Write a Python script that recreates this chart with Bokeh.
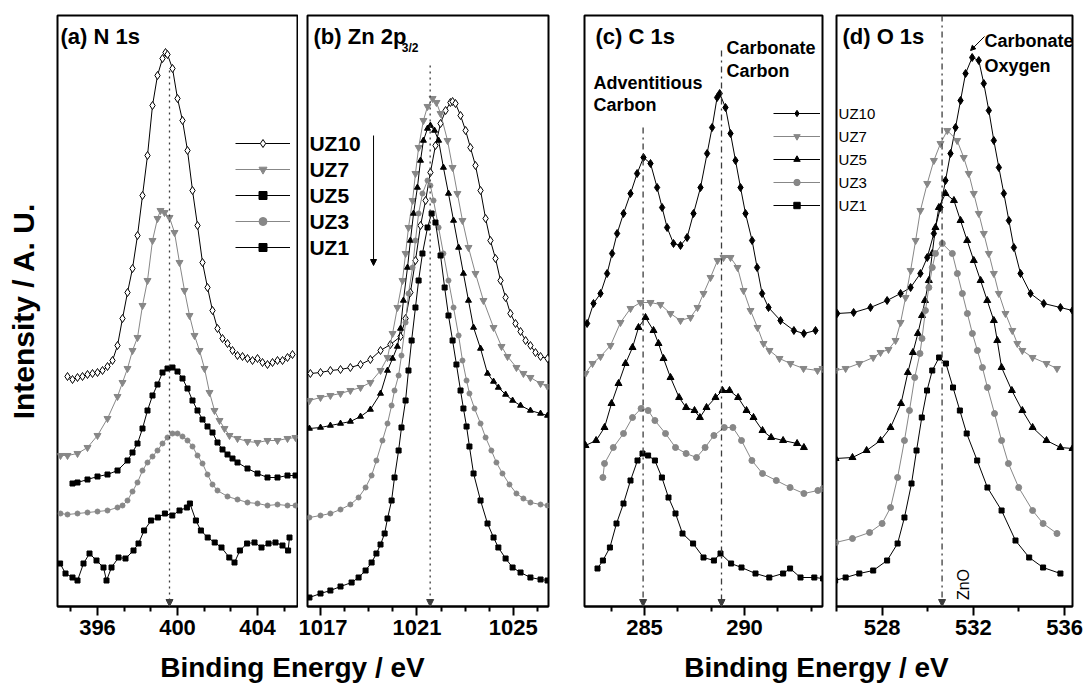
import math
from bokeh.plotting import figure
from bokeh.layouts import row, column
from bokeh.models import Range1d, FixedTicker, Legend, LegendItem, Label, Arrow, NormalHead
from bokeh.core.properties import value
from bokeh.embed import file_html
from bokeh.resources import INLINE

FONT = "Liberation Sans"
BLACK = "#000000"
GRAY = "#878787"
REFLINE = "#3c3c3c"

samples = ["UZ10", "UZ7", "UZ5", "UZ3", "UZ1"]

# ---------------- (a) N 1s ----------------
n1s_uz10_be = [394.5, 394.75, 395.0, 395.25, 395.5, 395.75, 396.0, 396.25, 396.5, 396.75, 397.0, 397.25, 397.5, 397.75, 398.0, 398.25, 398.5, 398.75, 399.0, 399.25, 399.4, 399.5, 399.75, 400.0, 400.25, 400.5, 400.75, 401.0, 401.25, 401.5, 401.75, 402.0, 402.25, 402.5, 402.75, 403.0, 403.25, 403.5, 403.75, 404.0, 404.25, 404.5, 404.75, 405.0, 405.25, 405.5, 405.75]
n1s_uz10_int = [230, 227, 229, 230, 232, 233, 234, 236, 240, 246, 261, 288, 314, 338, 371, 411, 451, 501, 531, 548, 554, 552, 538, 508, 486, 456, 416, 381, 344, 319, 296, 278, 268, 263, 256, 251, 250, 248, 246, 248, 244, 242, 244, 246, 246, 249, 252]
n1s_uz7_be = [394.15, 394.5, 395.0, 395.5, 396.0, 396.5, 397.0, 397.25, 397.5, 397.75, 398.0, 398.25, 398.5, 398.75, 399.0, 399.15, 399.35, 399.6, 399.85, 400.1, 400.35, 400.6, 400.85, 401.1, 401.35, 401.6, 401.85, 402.1, 402.35, 402.6, 403.0, 403.5, 404.0, 404.5, 405.0, 405.5, 405.9]
n1s_uz7_int = [151, 151, 153, 159, 171, 188, 210, 224, 238, 256, 269, 301, 326, 366, 388, 396, 394, 389, 374, 344, 316, 291, 271, 256, 238, 214, 196, 186, 178, 171, 168, 165, 164, 166, 166, 168, 169]
n1s_uz5_be = [394.75, 395.0, 395.5, 396.0, 396.5, 397.0, 397.5, 397.75, 398.0, 398.25, 398.5, 398.75, 399.0, 399.25, 399.5, 399.75, 400.0, 400.25, 400.5, 400.75, 401.0, 401.25, 401.5, 401.75, 402.0, 402.25, 402.5, 402.75, 403.0, 403.5, 404.0, 404.5, 405.0, 405.5, 405.9]
n1s_uz5_int = [123, 124, 127, 130, 132, 136, 146, 154, 163, 178, 196, 211, 222, 234, 238, 239, 235, 228, 218, 206, 196, 187, 180, 174, 164, 157, 152, 148, 144, 138, 133, 129, 129, 131, 131]
n1s_uz3_be = [394.15, 394.5, 395.0, 395.5, 396.0, 396.5, 397.0, 397.25, 397.5, 397.75, 398.0, 398.25, 398.5, 398.75, 399.0, 399.25, 399.5, 399.75, 400.0, 400.25, 400.5, 400.75, 401.0, 401.25, 401.5, 401.75, 402.0, 402.5, 403.0, 403.5, 404.0, 404.5, 405.0, 405.5, 405.9]
n1s_uz3_int = [93, 92, 93, 94, 95, 96, 99, 101, 106, 115, 124, 136, 144, 150, 156, 163, 169, 173, 173, 170, 166, 160, 151, 143, 132, 122, 116, 110, 107, 104, 103, 101, 102, 101, 101]
n1s_uz1_be = [394.13, 394.4, 394.75, 395.0, 395.3, 395.6, 395.95, 396.3, 396.45, 396.7, 397.05, 397.4, 397.8, 398.05, 398.33, 398.68, 399.02, 399.37, 399.74, 400.1, 400.47, 400.62, 400.92, 401.17, 401.51, 401.86, 402.2, 402.59, 402.85, 403.12, 403.48, 403.85, 404.2, 404.55, 404.9, 405.25, 405.53, 405.6]
n1s_uz1_int = [43, 33, 29, 26, 43, 53, 46, 39, 26, 39, 49, 48, 56, 63, 76, 86, 89, 93, 91, 96, 99, 103, 86, 76, 69, 64, 59, 49, 44, 56, 63, 64, 59, 63, 64, 61, 56, 69]

# ---------------- (b) Zn 2p3/2 ----------------
zn_uz10_be = [1016.58, 1017.0, 1017.41, 1017.83, 1018.24, 1018.66, 1019.07, 1019.49, 1019.9, 1020.32, 1020.53, 1020.73, 1020.94, 1021.15, 1021.36, 1021.56, 1021.77, 1021.98, 1022.19, 1022.39, 1022.48, 1022.6, 1022.81, 1023.02, 1023.22, 1023.43, 1023.64, 1023.85, 1024.05, 1024.26, 1024.47, 1024.68, 1024.88, 1025.09, 1025.3, 1025.51, 1025.71, 1025.92, 1026.13, 1026.42]
zn_uz10_int = [233, 234, 236, 237, 239, 242, 247, 256, 262, 270, 288, 314, 346, 381, 406, 434, 461, 483, 496, 504, 505, 503, 491, 476, 459, 441, 416, 388, 366, 348, 326, 309, 293, 283, 275, 266, 261, 254, 250, 248]
zn_uz7_be = [1016.54, 1017.0, 1017.41, 1017.83, 1018.24, 1018.66, 1019.07, 1019.49, 1019.78, 1019.99, 1020.19, 1020.4, 1020.53, 1020.65, 1020.82, 1020.94, 1021.07, 1021.27, 1021.44, 1021.65, 1021.81, 1021.98, 1022.27, 1022.48, 1022.68, 1022.89, 1023.14, 1023.43, 1023.76, 1024.18, 1024.51, 1024.76, 1025.13, 1025.42, 1025.71, 1026.13, 1026.42]
zn_uz7_int = [206, 209, 211, 213, 216, 219, 224, 236, 249, 273, 299, 326, 353, 379, 406, 433, 459, 486, 500, 508, 504, 493, 466, 439, 413, 386, 359, 333, 306, 279, 260, 250, 239, 233, 229, 223, 220]
zn_uz5_be = [1016.54, 1017.0, 1017.41, 1017.83, 1018.24, 1018.66, 1019.07, 1019.49, 1019.78, 1019.99, 1020.19, 1020.32, 1020.44, 1020.61, 1020.73, 1020.86, 1021.02, 1021.15, 1021.27, 1021.44, 1021.56, 1021.73, 1021.9, 1022.1, 1022.31, 1022.52, 1022.73, 1022.93, 1023.14, 1023.35, 1023.64, 1023.93, 1024.18, 1024.38, 1024.68, 1024.97, 1025.3, 1025.71, 1026.13, 1026.42]
zn_uz5_int = [178, 179, 181, 183, 185, 190, 197, 213, 236, 248, 260, 278, 306, 339, 366, 393, 419, 446, 466, 478, 481, 476, 466, 439, 413, 386, 359, 333, 306, 279, 258, 233, 225, 219, 212, 206, 201, 196, 193, 191]
zn_uz3_be = [1016.54, 1017.0, 1017.41, 1017.83, 1018.24, 1018.58, 1018.87, 1019.12, 1019.32, 1019.57, 1019.78, 1019.95, 1020.07, 1020.24, 1020.36, 1020.53, 1020.65, 1020.82, 1020.94, 1021.07, 1021.23, 1021.44, 1021.56, 1021.69, 1021.9, 1022.1, 1022.31, 1022.52, 1022.73, 1022.89, 1023.06, 1023.18, 1023.39, 1023.64, 1023.85, 1024.09, 1024.3, 1024.55, 1024.84, 1025.13, 1025.42, 1025.71, 1026.13, 1026.42]
zn_uz3_int = [89, 91, 93, 97, 102, 109, 119, 131, 146, 166, 183, 201, 216, 231, 251, 284, 313, 339, 366, 393, 413, 426, 421, 406, 379, 353, 326, 299, 271, 246, 226, 213, 198, 183, 169, 156, 144, 133, 122, 113, 108, 104, 102, 101]
zn_uz1_be = [1016.54, 1017.0, 1017.41, 1017.83, 1018.29, 1018.58, 1018.87, 1019.12, 1019.32, 1019.49, 1019.66, 1019.78, 1019.95, 1020.07, 1020.24, 1020.36, 1020.53, 1020.65, 1020.78, 1020.94, 1021.07, 1021.23, 1021.44, 1021.61, 1021.77, 1021.98, 1022.15, 1022.31, 1022.48, 1022.64, 1022.81, 1022.93, 1023.06, 1023.18, 1023.35, 1023.64, 1023.93, 1024.18, 1024.38, 1024.68, 1024.97, 1025.3, 1025.71, 1026.13, 1026.42]
zn_uz1_int = [9, 13, 16, 20, 24, 29, 36, 44, 53, 62, 73, 88, 106, 129, 156, 179, 206, 236, 266, 299, 326, 353, 379, 393, 384, 351, 319, 291, 266, 242, 216, 198, 180, 160, 133, 106, 83, 69, 59, 48, 39, 34, 29, 27, 26]

# ---------------- (c) C 1s ----------------
c1s_uz10_be = [282.13, 282.45, 282.8, 283.13, 283.38, 283.63, 283.95, 284.3, 284.63, 284.95, 285.3, 285.63, 285.88, 286.13, 286.45, 286.8, 287.13, 287.45, 287.8, 288.13, 288.38, 288.63, 288.76, 289.05, 289.3, 289.55, 289.8, 290.05, 290.38, 290.63, 290.88, 291.2, 291.8, 292.47, 292.97, 293.55]
c1s_uz10_int = [283, 303, 313, 333, 353, 373, 393, 413, 433, 449, 443, 419, 399, 379, 363, 361, 369, 393, 419, 453, 479, 509, 513, 499, 473, 446, 419, 393, 366, 339, 313, 299, 286, 276, 273, 276]
c1s_uz7_be = [282.05, 282.4, 282.8, 283.3, 283.8, 284.3, 284.8, 285.3, 285.8, 286.3, 286.8, 287.3, 287.65, 287.95, 288.3, 288.65, 288.95, 289.3, 289.65, 289.95, 290.3, 290.65, 290.95, 291.25, 291.75, 292.3, 292.95, 293.65, 293.9]
c1s_uz7_int = [233, 243, 250, 261, 284, 298, 304, 304, 302, 293, 286, 289, 299, 313, 329, 346, 349, 349, 339, 316, 296, 279, 263, 256, 248, 243, 238, 236, 238]
c1s_uz5_be = [282.05, 282.58, 283.0, 283.35, 283.7, 284.05, 284.4, 284.7, 285.05, 285.45, 285.7, 285.95, 286.3, 286.73, 287.08, 287.5, 287.77, 288.1, 288.55, 288.9, 289.25, 289.68, 290.1, 290.45, 290.9, 291.33, 291.93, 292.63, 292.97]
c1s_uz5_int = [161, 166, 179, 203, 223, 243, 259, 279, 289, 276, 263, 248, 229, 209, 199, 196, 189, 199, 209, 216, 216, 209, 196, 189, 176, 169, 166, 163, 159]
c1s_uz3_be = [282.92, 283.0, 283.44, 283.95, 284.4, 284.83, 285.18, 285.52, 286.05, 286.55, 287.08, 287.6, 288.03, 288.47, 288.99, 289.42, 289.85, 290.37, 290.9, 291.59, 292.28, 292.97, 293.67, 293.93]
c1s_uz3_int = [129, 143, 159, 173, 189, 198, 196, 186, 173, 159, 153, 149, 159, 171, 179, 179, 166, 146, 133, 126, 119, 113, 116, 118]
c1s_uz1_be = [282.65, 282.92, 283.27, 283.6, 283.95, 284.3, 284.65, 284.9, 285.18, 285.52, 285.87, 286.2, 286.55, 286.9, 287.43, 287.95, 288.47, 288.8, 289.33, 289.85, 290.55, 291.24, 291.93, 292.28, 292.8, 293.49, 293.93]
c1s_uz1_int = [38, 46, 59, 83, 103, 126, 146, 153, 151, 146, 129, 109, 93, 73, 63, 49, 46, 53, 43, 39, 33, 29, 33, 38, 29, 29, 28]

# ---------------- (d) O 1s ----------------
o1s_uz10_be = [526.03, 526.75, 527.49, 528.22, 528.81, 529.25, 529.68, 529.98, 530.27, 530.56, 530.78, 531.0, 531.22, 531.44, 531.66, 531.95, 532.24, 532.46, 532.68, 532.9, 533.12, 533.34, 533.56, 533.78, 534.07, 534.51, 535.09, 535.82, 536.35]
o1s_uz10_int = [293, 294, 299, 306, 313, 319, 333, 349, 373, 399, 426, 453, 479, 506, 533, 549, 546, 523, 496, 466, 439, 413, 386, 359, 333, 313, 303, 299, 296]
o1s_uz7_be = [525.96, 526.4, 527.0, 527.61, 527.93, 528.28, 528.59, 528.81, 529.03, 529.25, 529.47, 529.68, 529.98, 530.27, 530.56, 530.86, 531.29, 531.58, 531.8, 532.02, 532.24, 532.46, 532.68, 532.9, 533.12, 533.41, 533.71, 533.93, 534.15, 534.6, 535.21, 535.67]
o1s_uz7_int = [236, 238, 243, 249, 254, 257, 266, 284, 309, 336, 366, 396, 423, 446, 463, 476, 466, 449, 433, 413, 393, 373, 353, 333, 313, 293, 276, 263, 256, 249, 243, 238]
o1s_uz5_be = [525.96, 526.7, 527.32, 527.93, 528.37, 528.83, 529.13, 529.35, 529.57, 529.75, 529.88, 530.05, 530.2, 530.34, 530.49, 530.78, 531.15, 531.44, 531.73, 532.02, 532.32, 532.61, 532.9, 533.05, 533.24, 533.69, 534.15, 534.6, 535.21, 535.82, 536.35]
o1s_uz5_int = [148, 149, 156, 166, 179, 203, 234, 254, 273, 291, 306, 326, 353, 379, 399, 413, 406, 386, 366, 346, 326, 306, 286, 266, 239, 216, 196, 179, 166, 159, 158]
o1s_uz3_be = [525.96, 526.7, 527.45, 528.0, 528.37, 528.68, 528.98, 529.2, 529.43, 529.66, 529.75, 529.9, 530.05, 530.2, 530.34, 530.64, 531.08, 531.3, 531.52, 531.74, 531.96, 532.18, 532.4, 532.62, 532.93, 533.24, 533.54, 533.99, 534.6, 535.06, 535.67]
o1s_uz3_int = [64, 68, 74, 83, 99, 129, 166, 196, 229, 253, 268, 296, 319, 339, 353, 363, 353, 333, 313, 293, 273, 256, 239, 219, 193, 166, 143, 119, 96, 83, 73]
o1s_uz1_be = [525.94, 526.4, 527.0, 527.61, 528.22, 528.68, 528.98, 529.29, 529.51, 529.74, 529.97, 530.2, 530.5, 530.8, 531.11, 531.41, 531.71, 532.17, 532.62, 533.24, 533.85, 534.45, 535.06, 535.82]
o1s_uz1_int = [26, 29, 33, 36, 46, 63, 89, 123, 156, 189, 216, 236, 249, 243, 219, 196, 173, 146, 119, 96, 66, 49, 39, 33]

# ---------------- axes: ticks and reference energies ----------------
n1s_ticks = [396, 400, 404]
n1s_minor = [394.67, 397.33, 398.67, 401.33, 402.67, 405.33]
zn_ticks = [1017, 1021, 1025]
zn_minor = [1018, 1019, 1020, 1022, 1023, 1024, 1026]
c1s_ticks = [285, 290]
c1s_minor = [283.33, 286.67, 288.33, 291.67, 293.33]
o1s_ticks = [528, 532, 536]
o1s_minor = [526, 530, 534]

n1s_ref = 399.6
zn_ref = 1021.55
c_adv_ref = 284.93
c_carb_ref = 288.85
o_zno_ref = 530.63

H_TOP, H_FRAME, H_BOTTOM = 15, 591, 44
Y_MAX = 591


def make_panel(x_start, x_end, ticks, minor, left, frame_w, right, with_ylabel=False):
    p = figure(width=left + frame_w + right, height=H_TOP + H_FRAME + H_BOTTOM,
               x_range=Range1d(x_start, x_end), y_range=Range1d(0, Y_MAX),
               output_backend="svg", toolbar_location=None,
               min_border_left=left, min_border_right=right,
               min_border_top=H_TOP, min_border_bottom=H_BOTTOM,
               y_axis_location="left" if with_ylabel else None)
    p.title.visible = False
    p.grid.visible = False
    p.background_fill_color = "white"
    p.border_fill_color = "white"
    p.outline_line_color = BLACK
    p.outline_line_width = 2
    p.outline_line_alpha = 1
    ax = p.xaxis[0]
    ax.ticker = FixedTicker(ticks=ticks, minor_ticks=minor)
    ax.axis_line_width = 2
    ax.axis_line_color = BLACK
    ax.major_tick_line_width = 2
    ax.minor_tick_line_width = 2
    ax.major_tick_in = 0
    ax.major_tick_out = 9
    ax.minor_tick_in = 0
    ax.minor_tick_out = 5
    ax.major_label_standoff = 4
    ax.major_label_text_font = FONT
    ax.major_label_text_font_style = "bold"
    ax.major_label_text_font_size = "22px"
    ax.major_label_text_color = BLACK
    if with_ylabel:
        ay = p.yaxis[0]
        ay.ticker = FixedTicker(ticks=[])
        ay.axis_line_color = None
        ay.major_tick_line_color = None
        ay.minor_tick_line_color = None
        ay.major_tick_out = 0
        ay.minor_tick_out = 0
        ay.major_label_standoff = 0
        ay.axis_label = "Intensity / A. U."
        ay.axis_label_text_font = FONT
        ay.axis_label_text_font_style = "bold"
        ay.axis_label_text_font_size = "30px"
        ay.axis_label_text_color = BLACK
        ay.axis_label_standoff = 18
    return p


def add_series(p, be, inten, color, marker, size, fill):
    l = p.line(be, inten, line_color=color, line_width=1)
    s = p.scatter(be, inten, marker=marker, size=size, line_color=color,
                  fill_color=fill, line_width=1)
    return [l, s]


def ref_line(p, x, top, dash):
    p.add_layout(Arrow(x_start=x, y_start=top, x_end=x, y_end=0,
                       line_color=REFLINE, line_width=1.3, line_dash=dash,
                       end=NormalHead(size=7, line_color=REFLINE, fill_color=REFLINE)))


def lab(p, x, y, text, size, bold=True, **kw):
    p.add_layout(Label(x=x, y=y, text=text, text_font=FONT,
                       text_font_style="bold" if bold else "normal",
                       text_font_size=size, text_color=BLACK, **kw))


# ---------------- panel (a) ----------------
pa = make_panel(394.0, 406.0, n1s_ticks, n1s_minor, 57, 240, 1, with_ylabel=True)
a_series = [
    (n1s_uz10_be, n1s_uz10_int, BLACK, "diamond", 8, "white"),
    (n1s_uz7_be, n1s_uz7_int, GRAY, "inverted_triangle", 7, GRAY),
    (n1s_uz5_be, n1s_uz5_int, BLACK, "square", 5, BLACK),
    (n1s_uz3_be, n1s_uz3_int, GRAY, "circle", 5, GRAY),
    (n1s_uz1_be, n1s_uz1_int, BLACK, "square", 5, BLACK),
]
a_r = [add_series(pa, *s) for s in a_series]
ref_line(pa, n1s_ref, 536, "dotted")
lab(pa, 394.15, 583, "(a) N 1s", "22px", text_baseline="top")
leg_a = Legend(items=[LegendItem(label=value(""), renderers=r) for r in a_r],
               location=(178, 349), glyph_width=55, glyph_height=20, spacing=6,
               padding=0, margin=0, label_standoff=0, label_width=0,
               border_line_color=None, background_fill_color="white",
               background_fill_alpha=1)
pa.add_layout(leg_a)

# ---------------- panel (b) ----------------
pb = make_panel(1016.46, 1026.46, zn_ticks, zn_minor, 9, 241, 18)
b_series = [
    (zn_uz10_be, zn_uz10_int, BLACK, "diamond", 8, "white"),
    (zn_uz7_be, zn_uz7_int, GRAY, "inverted_triangle", 7, GRAY),
    (zn_uz5_be, zn_uz5_int, BLACK, "triangle", 6, BLACK),
    (zn_uz3_be, zn_uz3_int, GRAY, "circle", 5, GRAY),
    (zn_uz1_be, zn_uz1_int, BLACK, "square", 5, BLACK),
]
for s in b_series:
    add_series(pb, *s)
ref_line(pb, zn_ref, 541, "dotted")
lab(pb, 1016.71, 583, "(b) Zn 2p", "22px", text_baseline="top")
lab(pb, 1020.37, 566, "3/2", "12px", text_baseline="top")
for i, name in enumerate(samples):
    lab(pb, 1016.54, 463 - 26 * i, name, "21px", text_baseline="middle")
pb.add_layout(Arrow(x_start=1019.2, y_start=471, x_end=1019.2, y_end=341,
                    line_color=BLACK, line_width=1,
                    end=NormalHead(size=6, line_color=BLACK, fill_color=BLACK)))

# ---------------- panel (c) ----------------
pc = make_panel(282.0, 293.9, c1s_ticks, c1s_minor, 18, 238, 6)
c_series = [
    (c1s_uz10_be, c1s_uz10_int, BLACK, "diamond", 8, BLACK),
    (c1s_uz7_be, c1s_uz7_int, GRAY, "inverted_triangle", 7, GRAY),
    (c1s_uz5_be, c1s_uz5_int, BLACK, "triangle", 7, BLACK),
    (c1s_uz3_be, c1s_uz3_int, GRAY, "circle", 6, GRAY),
    (c1s_uz1_be, c1s_uz1_int, BLACK, "square", 5, BLACK),
]
c_r = [add_series(pc, *s) for s in c_series]
ref_line(pc, c_adv_ref, 479, "dashdot")
ref_line(pc, c_carb_ref, 556, "dashdot")
lab(pc, 282.55, 583, "(c) C 1s", "22px", text_baseline="top")
lab(pc, 289.1, 569, "Carbonate", "18px", text_baseline="top")
lab(pc, 289.1, 546, "Carbon", "18px", text_baseline="top")
lab(pc, 282.45, 534, "Adventitious", "18px", text_baseline="top")
lab(pc, 282.45, 512, "Carbon", "18px", text_baseline="top")
leg_c = Legend(items=[LegendItem(label=value(""), renderers=r) for r in c_r],
               location=(189, 393), glyph_width=47, glyph_height=16, spacing=7,
               padding=0, margin=0, label_standoff=0, label_width=0,
               border_line_color=None, background_fill_color="white",
               background_fill_alpha=1)
pc.add_layout(leg_c)

# ---------------- panel (d) ----------------
pd = make_panel(526.0, 536.35, o1s_ticks, o1s_minor, 8, 236, 14)
d_series = [
    (o1s_uz10_be, o1s_uz10_int, BLACK, "diamond", 8, BLACK),
    (o1s_uz7_be, o1s_uz7_int, GRAY, "inverted_triangle", 7, GRAY),
    (o1s_uz5_be, o1s_uz5_int, BLACK, "triangle", 7, BLACK),
    (o1s_uz3_be, o1s_uz3_int, GRAY, "circle", 6, GRAY),
    (o1s_uz1_be, o1s_uz1_int, BLACK, "square", 5, BLACK),
]
for s in d_series:
    add_series(pd, *s)
ref_line(pd, o_zno_ref, Y_MAX, "dashdot")
lab(pd, 526.26, 583, "(d) O 1s", "22px", text_baseline="top")
lab(pd, 532.49, 576, "Carbonate", "18px", text_baseline="top")
lab(pd, 532.49, 551, "Oxygen", "18px", text_baseline="top")
pd.add_layout(Arrow(x_start=532.49, y_start=570, x_end=531.88, y_end=556,
                    line_color=BLACK, line_width=1,
                    end=NormalHead(size=5, line_color=BLACK, fill_color=BLACK)))
lab(pd, 531.57, 22, "ZnO", "16px", bold=False, angle=math.pi / 2,
    text_align="center", text_baseline="middle")
for i, name in enumerate(samples):
    lab(pd, 526.09, 493 - 23 * i, name, "15px", bold=False, text_baseline="middle")

# ---------------- bottom axis titles ----------------
pt = figure(width=1086, height=34, x_range=Range1d(0, 1086), y_range=Range1d(0, 34),
            output_backend="svg", toolbar_location=None, min_border=0,
            min_border_left=0, min_border_right=0, min_border_top=0, min_border_bottom=0,
            x_axis_location=None, y_axis_location=None)
pt.title.visible = False
pt.outline_line_color = None
pt.grid.visible = False
for cx in (292, 816):
    pt.add_layout(Label(x=cx, y=17, x_units="screen", y_units="screen",
                        text="Binding Energy / eV", text_font=FONT,
                        text_font_style="bold", text_font_size="28px",
                        text_color=BLACK, text_align="center",
                        text_baseline="middle"))

layout = column(row(pa, pb, pc, pd), pt)
open("out.html", "w").write(file_html(layout, INLINE))
